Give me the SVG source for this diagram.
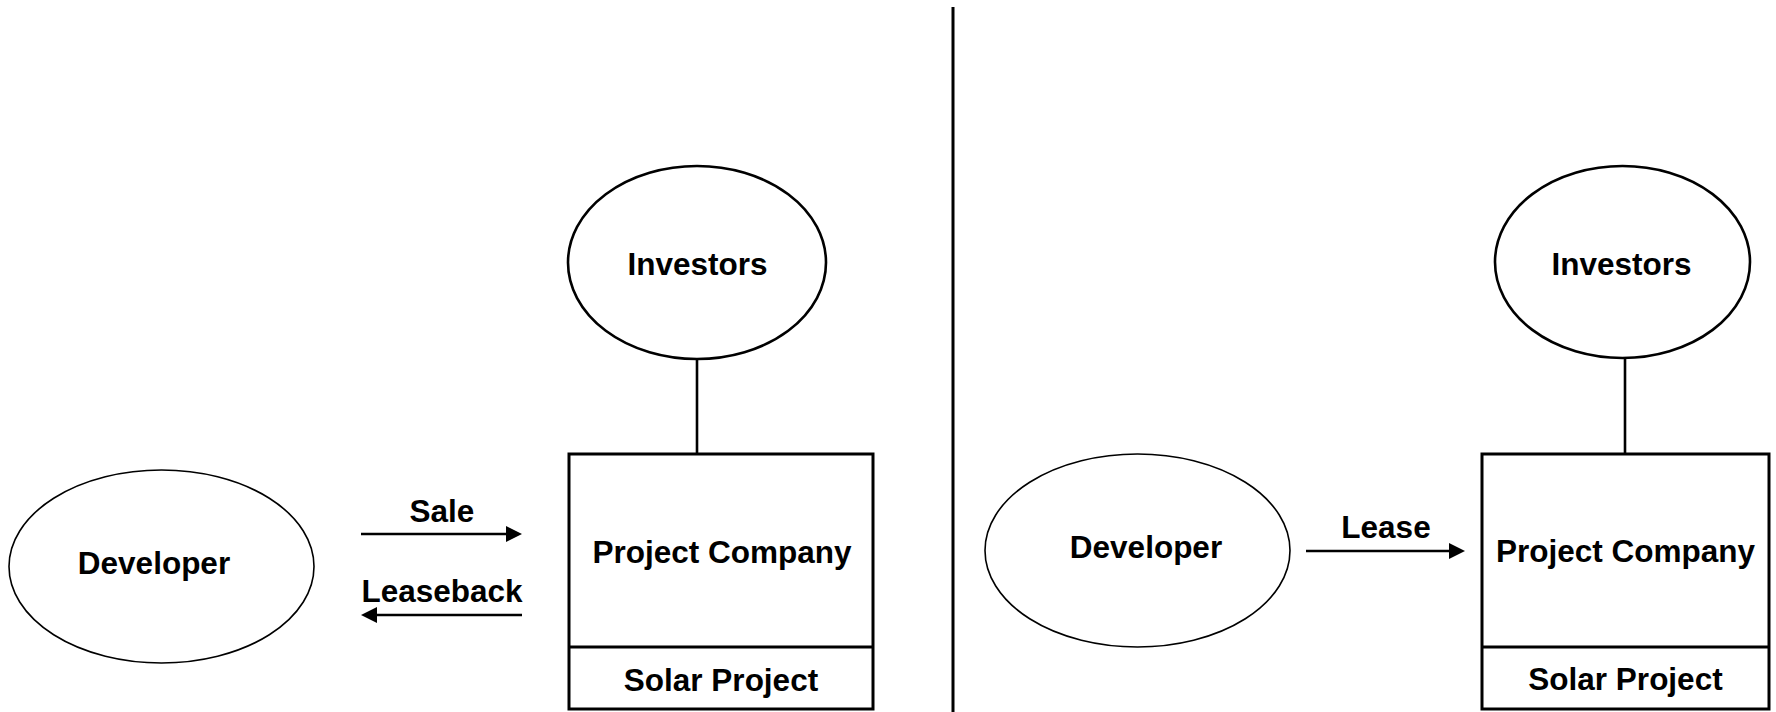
<svg xmlns="http://www.w3.org/2000/svg" width="1776" height="712" viewBox="0 0 1776 712">
  <style>
    text { font-family: "Liberation Sans", Arial, sans-serif; font-weight: bold; font-size: 31.5px; fill: #000; text-anchor: middle; }
    .party { fill: #fff; stroke: #000; stroke-width: 1.6; }
    .investor { fill: #fff; stroke: #000; stroke-width: 2.6; }
    .box { fill: #fff; stroke: #000; stroke-width: 3; }
    .link { stroke: #000; stroke-width: 2.6; fill: none; }
    .flow { stroke: #000; stroke-width: 2.6; fill: none; marker-end: url(#head); }
  </style>
  <defs>
    <marker id="head" markerUnits="userSpaceOnUse" markerWidth="16" markerHeight="16" refX="4" refY="8" orient="auto">
      <path d="M0,0 L16,8 L0,16 z" fill="#000"/>
    </marker>
  </defs>

  <rect width="1776" height="712" fill="#fff"/>

  <!-- panel separator -->
  <line x1="953" y1="7" x2="953" y2="712" stroke="#000" stroke-width="3"/>

  <!-- connectors -->
  <g id="connectors">
    <line class="flow" x1="361" y1="534" x2="510" y2="534"/>
    <line class="flow" x1="522" y1="615" x2="373" y2="615"/>
    <line class="link" x1="697" y1="359" x2="697" y2="454"/>
    <line class="flow" x1="1306" y1="551" x2="1453" y2="551"/>
    <line class="link" x1="1625" y1="358" x2="1625" y2="454"/>
  </g>

  <!-- connector labels -->
  <g id="labels">
    <text x="442" y="522">Sale</text>
    <text x="442" y="602">Leaseback</text>
    <text x="1386" y="538">Lease</text>
  </g>

  <!-- left panel: sale-leaseback -->
  <g id="developer-left">
    <ellipse class="party" cx="161.5" cy="566.5" rx="152.5" ry="96.5"/>
    <text x="154" y="574">Developer</text>
  </g>
  <g id="investors-left">
    <ellipse class="investor" cx="697" cy="262.5" rx="129" ry="96.5"/>
    <text x="697.5" y="275">Investors</text>
  </g>
  <g id="project-company-left">
    <rect class="box" x="569" y="454" width="304" height="255"/>
    <line x1="569" y1="647" x2="873" y2="647" stroke="#000" stroke-width="3"/>
    <text x="722" y="563">Project Company</text>
    <text x="721" y="691">Solar Project</text>
  </g>

  <!-- right panel: lease -->
  <g id="developer-right">
    <ellipse class="party" cx="1137.5" cy="550.5" rx="152.5" ry="96.5"/>
    <text x="1146" y="558">Developer</text>
  </g>
  <g id="investors-right">
    <ellipse class="investor" cx="1622.5" cy="262" rx="127.5" ry="96"/>
    <text x="1621.5" y="275">Investors</text>
  </g>
  <g id="project-company-right">
    <rect class="box" x="1482" y="454" width="287" height="255"/>
    <line x1="1482" y1="647" x2="1769" y2="647" stroke="#000" stroke-width="3"/>
    <text x="1625.5" y="562">Project Company</text>
    <text x="1625.5" y="690">Solar Project</text>
  </g>
</svg>
